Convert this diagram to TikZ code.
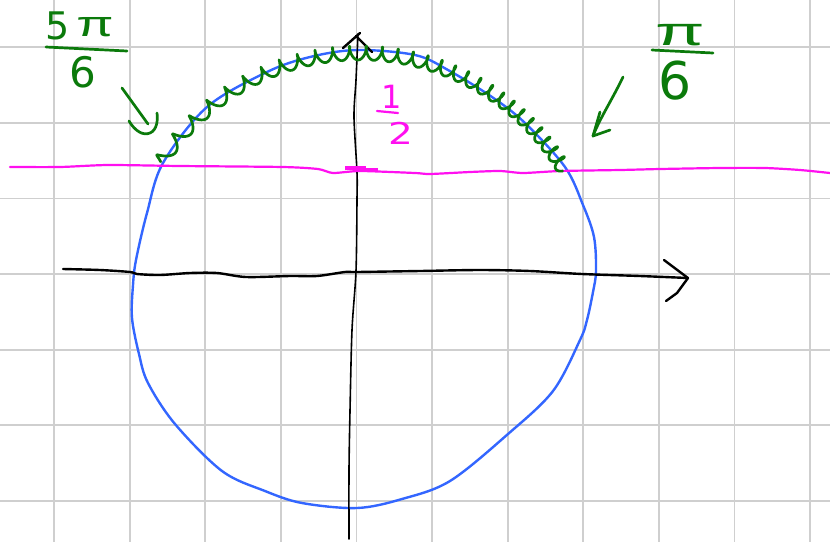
\documentclass[tikz,border=0pt]{standalone}
\usepackage{fontspec}
\setsansfont{DejaVu Sans}
\newfontfamily\pifont{Liberation Sans}
\definecolor{gridgray}{HTML}{CFCFCF}
\definecolor{circblue}{HTML}{3366FF}
\definecolor{handgreen}{HTML}{0B7A0B}
\definecolor{handpink}{HTML}{FF10F0}
\begin{document}
\begin{tikzpicture}[x=1pt,y=-1pt,
  declare function={phs(\t)=6480*\t+4320*\t*\t; tha(\t)=-148+117*\t+0.75*cos(phs(\t));},
  gridline/.style={gridgray,line width=1.8pt},
  axisline/.style={black,line width=2.4pt,line cap=round,line join=round},
  vaxisline/.style={black,line width=1.6pt,line cap=round,line join=round},
  circline/.style={circblue,line width=2.4pt,line join=round},
  pinkline/.style={handpink,line width=2.2pt,line cap=round,line join=round},
  greenline/.style={handgreen,line width=2.7pt,line cap=round,line join=round},
  greentext/.style={text=handgreen,inner sep=0pt,font=\sffamily},
  pinktext/.style={text=handpink,inner sep=0pt,font=\sffamily}]
\useasboundingbox (0,0) rectangle (830,542);
\fill[white] (0,0) rectangle (830,542);
% grid
\foreach \i in {0,...,10} \draw[gridline] ({54+75.6*\i},0) -- ({54+75.6*\i},542);
\foreach \j in {0,...,6} \draw[gridline] (0,{47.3+75.6*\j}) -- (830,{47.3+75.6*\j});
% circle
\draw[circline] plot[smooth cycle,tension=0.55] coordinates {
 (357,50) (415,55) (448,70) (492,97) (525,123) (565,167) (583,205) (594,237)
 (596,271) (593,292) (587,320) (580,340) (553,391) (508,434) (450,481) (402,499)
 (357,508) (302,503) (265,491) (222,471) (175,424) (148,383) (139,354) (132,318)
 (133,285) (136,260) (147,213) (163,163) (207,107) (267,72) (310,57)};
% horizontal axis
\coordinate (hx0) at (63,269);
\coordinate (hxtip) at (688,278);
\draw[axisline] plot[smooth,tension=0.5] coordinates {
 (63,269) (100,270) (130,272) (137,274) (160,275) (190,273) (217,273) (246,277)
 (290,276) (317,276) (345,272) (357,272) (420,271) (480,270) (530,271) (582,274)
 (640,276) (688,278)};
\draw[axisline] (664,260) -- (hxtip) -- (677,293) -- (666,301);
% vertical axis
\coordinate (vy0) at (349,539);
\coordinate (vytip) at (358,34);
\draw[vaxisline] plot[smooth,tension=0.5] coordinates {
 (349,539) (349,470) (350,411) (352,330) (356,271) (357,200) (357,172) (354,117) (356,80) (358,34)};
\draw[axisline] (343,48) -- (360,33);
\draw[axisline] (356,36) -- (372,52);
% pink line
\draw[pinkline] plot[smooth,tension=0.4] coordinates {
 (10,167) (60,167) (108,165) (180,166) (283,167) (318,169) (333,173) (360,171)
 (415,173) (430,174) (470,172) (500,171) (523,173) (560,171) (620,170) (660,169)
 (720,168) (765,168) (800,170) (830,173)};
\draw[handpink,line width=4.5pt] (345,168) -- (366,168);
\draw[handpink,line width=3.5pt] (362,170) -- (378,170);
% 1/2 label
\node[pinktext,font=\sffamily\fontsize{32}{32}\selectfont] (one) at (392,97) {1};
\draw[pinkline] (377,111) -- (398,113);
\node[pinktext,font=\sffamily\fontsize{30}{30}\selectfont] (two) at (401,133) {\scalebox{1.3}[1]{2}};
% green coil along the arc
\draw[greenline] plot[smooth,domain=0:1,samples=541,variable=\t]
 ({360+(237+7*sin(phs(\t)))*cos(tha(\t))},{290+(237+7*sin(phs(\t)))*sin(tha(\t))});
% 5pi/6 label
\node[greentext,font=\sffamily\fontsize{38}{38}\selectfont] (five) at (58,26) {5};
\node[greentext,font=\pifont\fontsize{36}{36}\selectfont] (pia) at (95,27) {\scalebox{1.5}[1]{π}};
\draw[greenline] (46,47) -- (127,51);
\node[greentext,font=\sffamily\fontsize{42}{42}\selectfont] (six1) at (83,72) {6};
\coordinate (a1s) at (122,88);
\coordinate (a1e) at (148,124);
\draw[greenline] (a1s) -- (a1e);
\draw[greenline] (129,121) .. controls (135,131) and (143,136) .. (150,133) .. controls (157,130) and (158,120) .. (157,113);
% pi/6 label
\node[greentext,font=\pifont\fontsize{40}{40}\selectfont] (pib) at (680,35) {\scalebox{1.8}[1]{π}};
\draw[greenline] (652,50) -- (713,53);
\node[greentext,font=\sffamily\fontsize{52}{52}\selectfont] (six2) at (675,81) {6};
\coordinate (a2s) at (623,77);
\coordinate (a2e) at (593,136);
\draw[greenline] (a2s) .. controls (612,100) and (600,118) .. (a2e);
\draw[greenline] (600,112) -- (a2e) -- (610,130);
\end{tikzpicture}
\end{document}
